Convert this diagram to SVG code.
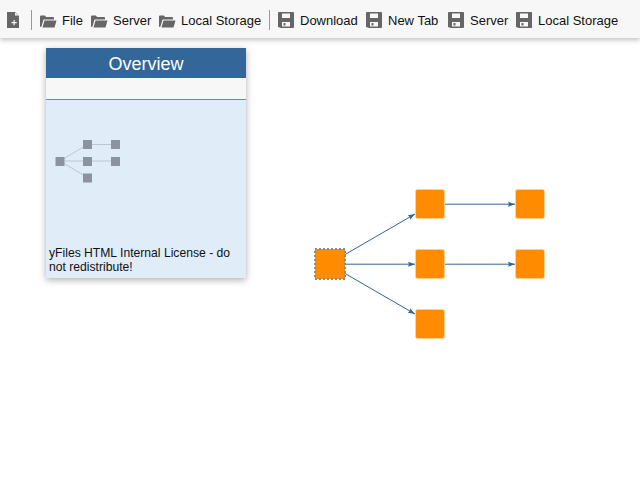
<svg xmlns="http://www.w3.org/2000/svg" width="640" height="480" viewBox="0 0 640 480">
<style>
.tb{font-family:"Liberation Sans",Arial,sans-serif;font-size:13px;fill:#111}
.ic{fill:#666}
.sep{stroke:#999;stroke-width:1}
.n{fill:#ff8c00;stroke:#ffd199;stroke-width:1}
.e{fill:none;stroke:#336699;stroke-width:1}
.ov{fill:#8a939e}
.ove{stroke:#bcc7d3;stroke-width:1;fill:none}
</style>
<defs>
<filter id="s1" x="-5%" y="-50%" width="110%" height="200%"><feDropShadow dx="0" dy="2" stdDeviation="2.5" flood-color="#000" flood-opacity="0.25"/></filter>
<filter id="s2" x="-10%" y="-10%" width="120%" height="120%"><feDropShadow dx="0" dy="2" stdDeviation="3.500" flood-color="#000" flood-opacity="0.32"/></filter>
<marker id="a" markerWidth="8" markerHeight="6" refX="7" refY="3" orient="auto" markerUnits="userSpaceOnUse"><path d="M0 0.500L7 3L0 5.500L1 3Z" fill="#336699"/></marker>
<g id="fo"><path class="ic" d="M0 14V3.500a1 1 0 0 1 1-1h4l1 1.500h7a1 1 0 0 1 1 1v1.500H3.500L1.500 13.500ZM2.500 14.500l2-7h12l-2 7Z"/></g>
<g id="sv"><path class="ic" fill-rule="evenodd" d="M1 0H15a1 1 0 0 1 1 1V15a1 1 0 0 1-1 1H3L0 15V1a1 1 0 0 1 1-1ZM4 1.500V6H12V1.500ZM4 10V14.500H12V10Z"/><rect class="ic" x="5.500" y="11" width="2" height="2.500"/></g>
</defs>
<g id="toolbar">
<rect x="0" y="0" width="640" height="38" fill="#f7f7f7" filter="url(#s1)"/>
<path class="ic" d="M7 12H15L19 16V28H7Z"/>
<path d="M15 12.500V15.500H18.500Z" fill="#f7f7f7"/>
<path d="M13 22h2v-2h1.200v2h2v1.200h-2v2H15v-2h-2Z" fill="#f7f7f7" transform="translate(-1.500,0)"/>
<line class="sep" x1="31.500" y1="10" x2="31.500" y2="30"/>
<use href="#fo" x="40" y="13"/><text class="tb" x="62" y="25">File</text>
<use href="#fo" x="91" y="13"/><text class="tb" x="113" y="25">Server</text>
<use href="#fo" x="159" y="13"/><text class="tb" x="181" y="25">Local Storage</text>
<line class="sep" x1="269.500" y1="10" x2="269.500" y2="30"/>
<use href="#sv" x="278" y="12"/><text class="tb" x="300" y="25">Download</text>
<use href="#sv" x="366" y="12"/><text class="tb" x="388" y="25">New Tab</text>
<use href="#sv" x="448" y="12"/><text class="tb" x="470" y="25">Server</text>
<use href="#sv" x="516" y="12"/><text class="tb" x="538" y="25">Local Storage</text>
</g>
<g id="overview">
<rect x="46" y="48" width="200" height="230" fill="#e0ecf8" filter="url(#s2)"/>
<rect x="46" y="48" width="200" height="30" fill="#336699"/>
<rect x="46" y="78" width="200" height="21" fill="#f7f7f7"/>
<line x1="46" y1="99.500" x2="246" y2="99.500" stroke="#4a90d9"/>
<text x="146" y="70" text-anchor="middle" font-family="'Liberation Sans',Arial,sans-serif" font-size="18" fill="#fff">Overview</text>
<g class="ove"><path d="M60 161L87.500 144.500M60 161H115.500M60 161L87.500 177.500M87.500 144.500H115.500"/></g>
<rect class="ov" x="55.500" y="157" width="9" height="9"/>
<rect class="ov" x="83" y="140" width="9" height="9"/>
<rect class="ov" x="83" y="157" width="9" height="9"/>
<rect class="ov" x="83" y="173.500" width="9" height="9"/>
<rect class="ov" x="111" y="140" width="9" height="9"/>
<rect class="ov" x="111" y="157" width="9" height="9"/>
<text font-family="'Liberation Sans',Arial,sans-serif" font-size="12.150" fill="#111"><tspan x="49" y="257">yFiles HTML Internal License - do</tspan><tspan x="49" y="271">not redistribute!</tspan></text>
</g>
<g id="connectors">
<line class="e" x1="345" y1="254.500" x2="415" y2="214" marker-end="url(#a)"/>
<line class="e" x1="345" y1="264.200" x2="415" y2="264.200" marker-end="url(#a)"/>
<line class="e" x1="345" y1="273.500" x2="415" y2="314" marker-end="url(#a)"/>
<line class="e" x1="445" y1="204.200" x2="515" y2="204.200" marker-end="url(#a)"/>
<line class="e" x1="445" y1="264.200" x2="515" y2="264.200" marker-end="url(#a)"/>
</g>
<g id="n0"><rect x="315" y="249" width="30" height="30" rx="1.500" fill="#ff8c00"/><rect x="315" y="249" width="30" height="30" fill="none" stroke="#8a8a8a" stroke-width="2" stroke-dasharray="2 2"/></g>
<g id="n1"><rect class="n" x="415.500" y="189.500" width="29" height="29" rx="2"/></g>
<g id="n2"><rect class="n" x="415.500" y="249.500" width="29" height="29" rx="2"/></g>
<g id="n3"><rect class="n" x="415.500" y="309.500" width="29" height="29" rx="2"/></g>
<g id="n4"><rect class="n" x="515.500" y="189.500" width="29" height="29" rx="2"/></g>
<g id="n5"><rect class="n" x="515.500" y="249.500" width="29" height="29" rx="2"/></g>
</svg>
